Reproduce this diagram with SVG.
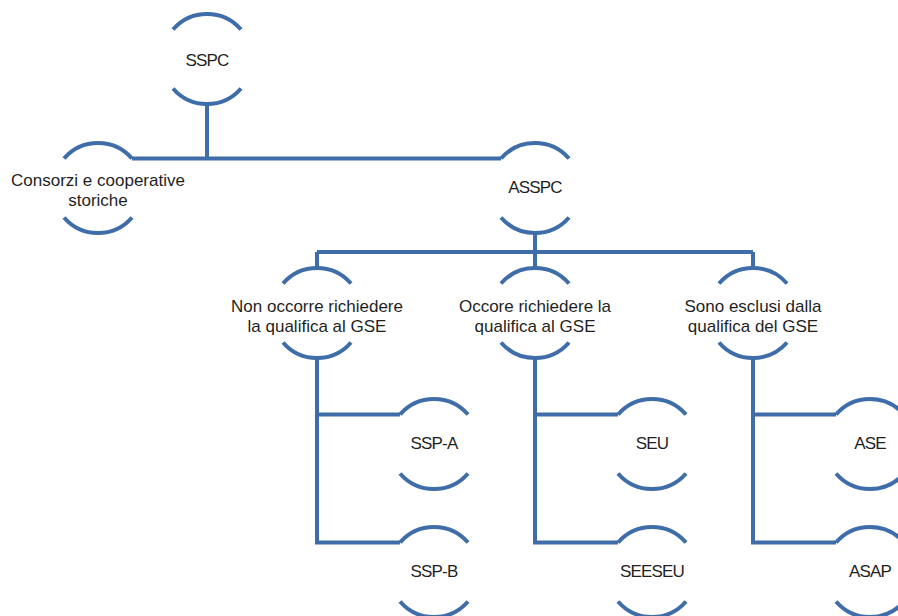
<svg xmlns="http://www.w3.org/2000/svg" width="898" height="616" viewBox="0 0 898 616">
<style>
.arc{fill:none;stroke:#3E6DA9;stroke-width:4}
.con{fill:none;stroke:#3E6DA9;stroke-width:4;stroke-linejoin:miter}
.t{font-family:"Liberation Sans",Arial,sans-serif;font-size:17px;fill:#1f1f1f;text-anchor:middle}
.c{letter-spacing:-0.8px}
</style>
<rect width="898" height="616" fill="#ffffff"/>
<g id="connectors">
<path class="con" d="M207,104 V158.5 M132,158.5 H501"/>
<path class="con" d="M535,233 V252 M317,252 H753 M317,252 V268 M535,252 V268 M753,252 V268"/>
<path class="con" d="M317,358 V542.5 H400 M317,414.5 H400"/>
<path class="con" d="M535,358 V542.5 H618 M535,414.5 H618"/>
<path class="con" d="M753,358 V542.5 H836 M753,414.5 H836"/>
</g>
<g id="n-sspc">
<path class="arc" d="M173,29.5 A45,45 0 0 1 241,29.5 M173,88.5 A45,45 0 0 0 241,88.5"/>
<text class="t c" x="207" y="65.5">SSPC</text>
</g>
<g id="n-consorzi">
<path class="arc" d="M64,158.5 A45,45 0 0 1 132,158.5 M64,217.5 A45,45 0 0 0 132,217.5"/>
<text class="t" x="98" y="186">Consorzi e cooperative<tspan x="98" dy="19.6">storiche</tspan></text>
</g>
<g id="n-asspc">
<path class="arc" d="M501,158.5 A45,45 0 0 1 569,158.5 M501,217.5 A45,45 0 0 0 569,217.5"/>
<text class="t c" x="535" y="193">ASSPC</text>
</g>
<g id="n-non-occorre">
<path class="arc" d="M283,283.5 A45,45 0 0 1 351,283.5 M283,342.5 A45,45 0 0 0 351,342.5"/>
<text class="t" x="317" y="312">Non occorre richiedere<tspan x="317" dy="19.6">la qualifica al GSE</tspan></text>
</g>
<g id="n-occore">
<path class="arc" d="M501,283.5 A45,45 0 0 1 569,283.5 M501,342.5 A45,45 0 0 0 569,342.5"/>
<text class="t" x="535" y="312">Occore richiedere la<tspan x="535" dy="19.6">qualifica al GSE</tspan></text>
</g>
<g id="n-esclusi">
<path class="arc" d="M719,283.5 A45,45 0 0 1 787,283.5 M719,342.5 A45,45 0 0 0 787,342.5"/>
<text class="t" x="753" y="312">Sono esclusi dalla<tspan x="753" dy="19.6">qualifica del GSE</tspan></text>
</g>
<g id="n-ssp-a">
<path class="arc" d="M400,414.5 A45,45 0 0 1 468,414.5 M400,473.5 A45,45 0 0 0 468,473.5"/>
<text class="t c" x="434" y="449">SSP-A</text>
</g>
<g id="n-ssp-b">
<path class="arc" d="M400,542.5 A45,45 0 0 1 468,542.5 M400,601.5 A45,45 0 0 0 468,601.5"/>
<text class="t c" x="434" y="577">SSP-B</text>
</g>
<g id="n-seu">
<path class="arc" d="M618,414.5 A45,45 0 0 1 686,414.5 M618,473.5 A45,45 0 0 0 686,473.5"/>
<text class="t c" x="652" y="449">SEU</text>
</g>
<g id="n-seeseu">
<path class="arc" d="M618,542.5 A45,45 0 0 1 686,542.5 M618,601.5 A45,45 0 0 0 686,601.5"/>
<text class="t c" x="652" y="577">SEESEU</text>
</g>
<g id="n-ase">
<path class="arc" d="M836,414.5 A45,45 0 0 1 904,414.5 M836,473.5 A45,45 0 0 0 904,473.5"/>
<text class="t c" x="870" y="449">ASE</text>
</g>
<g id="n-asap">
<path class="arc" d="M836,542.5 A45,45 0 0 1 904,542.5 M836,601.5 A45,45 0 0 0 904,601.5"/>
<text class="t c" x="870" y="577">ASAP</text>
</g>
</svg>
